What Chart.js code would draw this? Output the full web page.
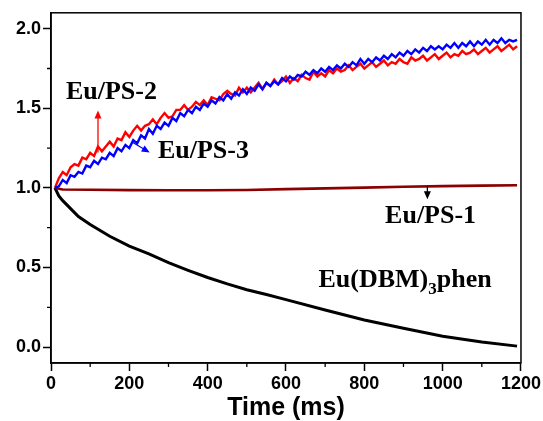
<!DOCTYPE html>
<html>
<head>
<meta charset="utf-8">
<script src="https://cdn.jsdelivr.net/npm/chart.js@4"></script>
<style>
  html, body { margin: 0; padding: 0; background: #fff; }
  #wrap { width: 543px; height: 421px; }
</style>
</head>
<body>
<div id="wrap"><canvas id="decayChart"></canvas></div>
<script>
// sample times (ms) shared by the two noisy traces
const times = [
    10, 20, 30, 40, 50, 60, 70, 80, 90, 100,
    110, 120, 130, 140, 150, 160, 170, 180, 190, 200,
    210, 220, 230, 240, 250, 260, 270, 280, 290, 300,
    310, 320, 330, 340, 350, 360, 370, 380, 390, 400,
    410, 420, 430, 440, 450, 460, 470, 480, 490, 500,
    510, 520, 530, 540, 550, 560, 570, 580, 590, 600,
    610, 620, 630, 640, 650, 660, 670, 680, 690, 700,
    710, 720, 730, 740, 750, 760, 770, 780, 790, 800,
    810, 820, 830, 840, 850, 860, 870, 880, 890, 900,
    910, 920, 930, 940, 950, 960, 970, 980, 990, 1000,
    1010, 1020, 1030, 1040, 1050, 1060, 1070, 1080, 1090, 1100,
    1110, 1120, 1130, 1140, 1150, 1160, 1170, 1180, 1190
];

const ps2 = [
    1.00, 1.06, 1.10, 1.08, 1.13, 1.15, 1.14, 1.19, 1.18, 1.22,
    1.20, 1.26, 1.23, 1.26, 1.29, 1.26, 1.31, 1.30, 1.35, 1.32,
    1.36, 1.39, 1.36, 1.39, 1.40, 1.43, 1.40, 1.44, 1.47, 1.44,
    1.45, 1.49, 1.49, 1.52, 1.49, 1.51, 1.54, 1.52, 1.55, 1.52,
    1.57, 1.56, 1.55, 1.59, 1.61, 1.59, 1.58, 1.63, 1.60, 1.63,
    1.60, 1.63, 1.66, 1.62, 1.66, 1.64, 1.68, 1.65, 1.67, 1.70,
    1.66, 1.69, 1.67, 1.71, 1.69, 1.68, 1.73, 1.70, 1.72, 1.70,
    1.74, 1.72, 1.75, 1.73, 1.74, 1.77, 1.74, 1.76, 1.78, 1.75,
    1.77, 1.79, 1.76, 1.78, 1.80, 1.77, 1.79, 1.78, 1.81, 1.79,
    1.78, 1.82, 1.80, 1.81, 1.83, 1.80, 1.82, 1.84, 1.81, 1.83,
    1.85, 1.82, 1.84, 1.83, 1.86, 1.84, 1.85, 1.87, 1.84, 1.86,
    1.88, 1.85, 1.87, 1.89, 1.86, 1.88, 1.90, 1.87, 1.89
];

const ps3 = [
    1.00, 1.01, 1.05, 1.03, 1.08, 1.07, 1.10, 1.09, 1.14, 1.13,
    1.17, 1.15, 1.19, 1.18, 1.22, 1.20, 1.25, 1.23, 1.27, 1.25,
    1.30, 1.28, 1.33, 1.31, 1.37, 1.34, 1.39, 1.37, 1.41, 1.39,
    1.44, 1.42, 1.47, 1.45, 1.49, 1.47, 1.51, 1.49, 1.53, 1.51,
    1.55, 1.53, 1.57, 1.55, 1.59, 1.56, 1.60, 1.58, 1.62, 1.59,
    1.63, 1.61, 1.65, 1.62, 1.66, 1.64, 1.67, 1.65, 1.69, 1.67,
    1.70, 1.68, 1.71, 1.70, 1.73, 1.71, 1.74, 1.72, 1.75, 1.73,
    1.76, 1.74, 1.77, 1.75, 1.78, 1.76, 1.79, 1.77, 1.81, 1.78,
    1.81, 1.79, 1.82, 1.80, 1.83, 1.81, 1.84, 1.82, 1.85, 1.83,
    1.86, 1.84, 1.87, 1.85, 1.88, 1.86, 1.89, 1.87, 1.89, 1.87,
    1.90, 1.88, 1.91, 1.88, 1.91, 1.89, 1.92, 1.89, 1.92, 1.90,
    1.93, 1.90, 1.93, 1.91, 1.94, 1.91, 1.93, 1.92, 1.93
];

const ps1Times = [10, 30, 100, 200, 300, 400, 500, 600, 700, 800, 900, 1000, 1100, 1190];
const ps1 = [1.0, 0.99, 0.988, 0.986, 0.985, 0.985, 0.987, 0.992, 0.997, 1.002, 1.007, 1.011, 1.014, 1.017];

const dbmTimes = [10, 20, 30, 50, 70, 100, 150, 200, 250, 300, 350, 400, 450, 500, 550, 600, 700, 800, 900, 1000, 1100, 1190];
const dbm = [1.0, 0.95, 0.92, 0.87, 0.82, 0.77, 0.696, 0.634, 0.585, 0.53, 0.482, 0.437, 0.397, 0.36, 0.33, 0.298, 0.233, 0.17, 0.118, 0.068, 0.032, 0.006];

const xTicks = [0, 200, 400, 600, 800, 1000, 1200];
const xMinor = [100, 300, 500, 700, 900, 1100];
const yTicks = [0, 0.5, 1.0, 1.5, 2.0];
const yMinor = [0.25, 0.75, 1.25, 1.75];

// curve labels and arrows, in data units
const labels = [
    { text: 'Eu/PS-2', x: 38, y: 1.561 },
    { text: 'Eu/PS-3', x: 273, y: 1.185 },
    { text: 'Eu/PS-1', x: 853, y: 0.777 }
];
const arrows = [
    { from: [120, 1.222], to: [120, 1.486], color: '#ff0000' },
    { from: [209, 1.285], to: [252, 1.222], color: '#0000ff' },
    { from: [961, 1.009], to: [961, 0.928], color: '#000000' }
];

const toPoints = (xs, ys) => xs.map((x, i) => ({ x: x, y: ys[i] }));

function drawArrow(ctx, x1, y1, x2, y2, color) {
    const ang = Math.atan2(y2 - y1, x2 - x1);
    const len = 8, half = 3.5;
    ctx.strokeStyle = color;
    ctx.fillStyle = color;
    ctx.lineWidth = 1.3;
    ctx.beginPath();
    ctx.moveTo(x1, y1);
    ctx.lineTo(x2 - Math.cos(ang) * len * 0.8, y2 - Math.sin(ang) * len * 0.8);
    ctx.stroke();
    ctx.beginPath();
    ctx.moveTo(x2, y2);
    ctx.lineTo(x2 - Math.cos(ang) * len - Math.sin(ang) * half, y2 - Math.sin(ang) * len + Math.cos(ang) * half);
    ctx.lineTo(x2 - Math.cos(ang) * len + Math.sin(ang) * half, y2 - Math.sin(ang) * len - Math.cos(ang) * half);
    ctx.closePath();
    ctx.fill();
}

const decorations = {
    id: 'decorations',
    afterDraw(chart) {
        const ctx = chart.ctx;
        const xs = chart.scales.x, ys = chart.scales.y;
        const a = chart.chartArea;
        ctx.save();
        ctx.strokeStyle = '#000';
        ctx.lineWidth = 1.5;
        ctx.strokeRect(a.left, a.top, a.right - a.left, a.bottom - a.top);

        // minor ticks
        ctx.lineWidth = 1.3;
        ctx.beginPath();
        xMinor.forEach(v => {
            const px = xs.getPixelForValue(v);
            ctx.moveTo(px, a.bottom);
            ctx.lineTo(px, a.bottom + 4);
        });
        yMinor.forEach(v => {
            const py = ys.getPixelForValue(v);
            ctx.moveTo(a.left, py);
            ctx.lineTo(a.left - 4, py);
        });
        ctx.stroke();

        arrows.forEach(ar => {
            drawArrow(ctx,
                xs.getPixelForValue(ar.from[0]), ys.getPixelForValue(ar.from[1]),
                xs.getPixelForValue(ar.to[0]), ys.getPixelForValue(ar.to[1]),
                ar.color);
        });

        const serif = '"Liberation Serif", "Times New Roman", serif';
        ctx.fillStyle = '#000';
        ctx.textBaseline = 'alphabetic';
        ctx.textAlign = 'left';
        ctx.font = 'bold 26px ' + serif;
        labels.forEach(l => {
            ctx.fillText(l.text, xs.getPixelForValue(l.x), ys.getPixelForValue(l.y));
        });

        // Eu(DBM)3phen with subscript
        let px = xs.getPixelForValue(683);
        const py = ys.getPixelForValue(0.376);
        ctx.fillText('Eu(DBM)', px, py);
        px += ctx.measureText('Eu(DBM)').width;
        ctx.font = 'bold 17px ' + serif;
        ctx.fillText('3', px, py + 7);
        px += ctx.measureText('3').width;
        ctx.font = 'bold 26px ' + serif;
        ctx.fillText('phen', px, py);
        ctx.restore();
    }
};

const tickFont = { family: '"Liberation Sans", Arial, sans-serif', size: 18, weight: 'bold' };

function createDecayChart() {
    const ctx = document.getElementById('decayChart').getContext('2d');
    new Chart(ctx, {
        type: 'line',
        data: {
            datasets: [
                {
                    label: 'Eu/PS-3',
                    data: toPoints(times, ps3),
                    borderColor: '#0000ff',
                    borderWidth: 2.4,
                    order: 1
                },
                {
                    label: 'Eu/PS-2',
                    data: toPoints(times, ps2),
                    borderColor: '#ff0000',
                    borderWidth: 2.4,
                    order: 2
                },
                {
                    label: 'Eu/PS-1',
                    data: toPoints(ps1Times, ps1),
                    borderColor: '#8b0000',
                    borderWidth: 2.6,
                    order: 3
                },
                {
                    label: 'Eu(DBM)3phen',
                    data: toPoints(dbmTimes, dbm),
                    borderColor: '#000000',
                    borderWidth: 3,
                    order: 4
                }
            ]
        },
        options: {
            responsive: true,
            maintainAspectRatio: false,
            animation: false,
            layout: { padding: { top: 12, right: 21, left: 0, bottom: 0 } },
            elements: { point: { radius: 0 }, line: { tension: 0 } },
            plugins: {
                legend: { display: false },
                tooltip: { enabled: false }
            },
            scales: {
                x: {
                    type: 'linear',
                    min: 0,
                    max: 1200,
                    afterBuildTicks: s => { s.ticks = xTicks.map(v => ({ value: v })); },
                    afterFit: s => { s.height = 58; },
                    grid: { drawOnChartArea: false, drawTicks: true, tickLength: 8, tickColor: '#000', tickWidth: 1.5 },
                    border: { display: true, color: '#000', width: 1.5 },
                    ticks: { font: tickFont, color: '#000', padding: 2, maxRotation: 0, callback: v => String(v) },
                    title: {
                        display: true,
                        text: 'Time (ms)',
                        color: '#000',
                        font: { family: '"Liberation Sans", Arial, sans-serif', size: 25, weight: 'bold', lineHeight: 1 },
                        padding: 0
                    }
                },
                y: {
                    min: -0.1,
                    max: 2.1,
                    afterBuildTicks: s => { s.ticks = yTicks.map(v => ({ value: v })); },
                    afterFit: s => { s.width = 51; },
                    grid: { drawOnChartArea: false, drawTicks: true, tickLength: 8, tickColor: '#000', tickWidth: 1.5 },
                    border: { display: true, color: '#000', width: 1.5 },
                    ticks: { font: tickFont, color: '#000', padding: 2, callback: v => Number(v).toFixed(1) }
                }
            }
        },
        plugins: [decorations]
    });
}

createDecayChart();
</script>
</body>
</html>
